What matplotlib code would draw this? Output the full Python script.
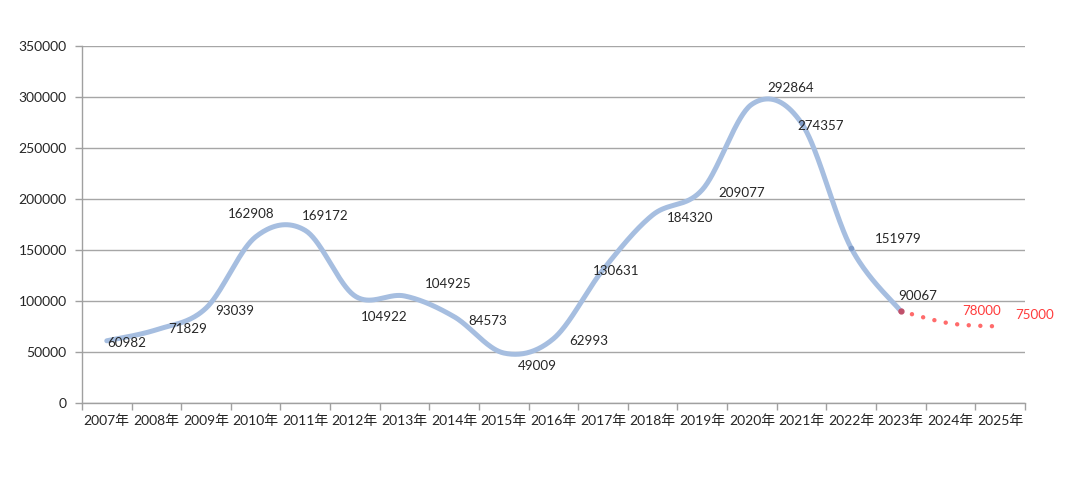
import numpy as np
import matplotlib
matplotlib.use("Agg")
import matplotlib.pyplot as plt

plt.rcParams['font.family'] = ['Lato', 'Noto Sans CJK SC', 'DejaVu Sans']

# data
years = ["2007年", "2008年", "2009年", "2010年", "2011年", "2012年", "2013年",
         "2014年", "2015年", "2016年", "2017年", "2018年", "2019年", "2020年",
         "2021年", "2022年", "2023年", "2024年", "2025年"]
actual = [60982, 71829, 93039, 162908, 169172, 104922, 104925, 84573, 49009,
          62993, 130631, 184320, 209077, 292864, 274357, 151979, 90067]
forecast = [90067, 78000, 75000]
# label offsets in pixels (dx, dy)
act_off = [(20, -2), (31, 1), (29, -3), (-4, 23), (20, 14), (29, -21), (44, 12),
           (34, -4), (34, -13), (35, -2), (13, -1), (38, -3), (39, -3), (39, 16),
           (19, -3), (47, 9), (17, 15)]
fc_off = [(31, 12), (35, 11)]


def smooth(xs, ys, n=40):
    # excel-like smoothed line (cardinal bezier through every point)
    px = np.asarray(xs, float)
    py = np.asarray(ys, float)
    ox, oy = [], []
    t = np.linspace(0, 1, n)
    for i in range(len(px) - 1):
        a = max(i - 1, 0)
        b = min(i + 2, len(px) - 1)
        c1x = px[i] + (px[i + 1] - px[a]) / 6
        c1y = py[i] + (py[i + 1] - py[a]) / 6
        c2x = px[i + 1] - (px[b] - px[i]) / 6
        c2y = py[i + 1] - (py[b] - py[i]) / 6
        bx = (1-t)**3*px[i] + 3*(1-t)**2*t*c1x + 3*(1-t)*t**2*c2x + t**3*px[i+1]
        by = (1-t)**3*py[i] + 3*(1-t)**2*t*c1y + 3*(1-t)*t**2*c2y + t**3*py[i+1]
        ox.extend(bx)
        oy.extend(by)
    return np.array(ox), np.array(oy)


fig = plt.figure(figsize=(10.8, 4.78), dpi=100)
ax = fig.add_axes([0.0759, 0.1569, 0.873, 0.7469])

xa = np.arange(len(actual))
xf = np.arange(len(actual) - 1, len(years))

sx, sy = smooth(xa, actual)
ax.plot(sx, sy, color='#A6BEE0', lw=3.6, solid_capstyle='round', zorder=3)
fx, fy = smooth(xf, forecast)
ax.plot(fx, fy, color='#FF6B6B', lw=3.2, linestyle=(0, (0.01, 2.6)),
        dash_capstyle='round', zorder=3)
ax.plot([xa[14], xa[15]], [actual[14], actual[15]], 'o', ms=3,
        color='#7F9CC9', zorder=4)
ax.plot([xf[0]], [forecast[0]], 'o', ms=3.5, color='#C0506A', zorder=4)

for x, v, (dx, dy) in zip(xa, actual, act_off):
    ax.annotate(str(v), (x, v), xytext=(dx * 0.72, dy * 0.72),
                textcoords='offset points', ha='center', va='center',
                fontsize=9.6, color='#262626', zorder=5)
for x, v, (dx, dy) in zip(xf[1:], forecast[1:], fc_off):
    ax.annotate(str(v), (x, v), xytext=(dx * 0.72, dy * 0.72),
                textcoords='offset points', ha='center', va='center',
                fontsize=9.6, color='#FF3B3B', zorder=5)

ax.set_xlim(-0.5, len(years) - 0.5)
ax.set_ylim(0, 350000)
ax.set_yticks(np.arange(0, 350001, 50000))
ax.set_yticklabels([str(v) for v in range(0, 350001, 50000)], fontsize=10,
                   color='#262626')
ax.set_xticks(np.arange(-0.5, len(years), 1))
ax.set_xticklabels([])
ax.set_xticks(np.arange(len(years)), minor=True)
ax.set_xticklabels(years, minor=True, fontsize=10, color='#262626')
ax.tick_params(axis='x', which='major', length=5, color='#A0A0A0', width=1)
ax.tick_params(axis='x', which='minor', length=0, pad=8)
ax.tick_params(axis='y', length=5, color='#A0A0A0', width=1, pad=6)

ax.grid(axis='y', color='#A6A6A6', lw=1)
ax.set_axisbelow(True)
for s in ['top', 'right']:
    ax.spines[s].set_visible(False)
for s in ['left', 'bottom']:
    ax.spines[s].set_color('#A0A0A0')
    ax.spines[s].set_linewidth(1)

fig.savefig('out.png', dpi=100)
